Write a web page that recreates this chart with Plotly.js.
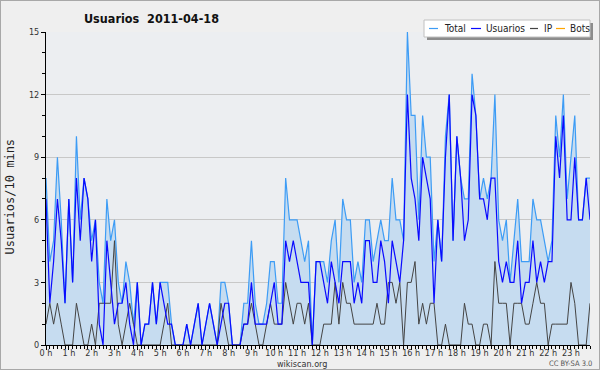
<!DOCTYPE html>
<html>
<head>
<meta charset="utf-8">
<script src="https://cdn.plot.ly/plotly-3.0.1.min.js"></script>
<style>
  html, body { margin: 0; padding: 0; background: #efefef; }
  #wrap { position: relative; width: 600px; height: 370px; }
  #chart { width: 600px; height: 370px; }
  #frame { position: absolute; left: 0; top: 0; width: 600px; height: 370px; box-sizing: border-box; border: 1px solid #a8a8a8; pointer-events: none; }
</style>
</head>
<body>
<div id="wrap"><div id="chart"></div><div id="frame"></div></div>
<script>
// ---- Data: one value per 10-minute slot, 2011-04-18 ----
const total = [
  8,4,5,9,6,2,7,3,10,6,
  8,7,5,6,3,2,7,5,6,3,
  2,4,3,1,3,0,1,1,3,1,
  3,3,3,1,0,0,0,1,0,1,
  2,0,1,2,1,0,3,3,2,0,
  0,0,2,2,5,2,1,1,2,4,
  4,2,2,8,6,6,6,5,4,5,
  0,4,4,4,3,5,6,3,7,6,
  6,3,4,3,6,6,4,5,6,5,
  5,8,6,6,5,15,11,11,6,11,
  9,9,4,6,4,10,12,5,10,8,
  7,7,13,11,7,8,7,8,12,6,
  5,6,3,5,7,4,4,4,7,6,
  6,5,4,5,11,9,12,7,9,11,
  6,6,8,8
];
const usuarios = [
  7,2,4,7,5,2,7,3,8,5,
  8,7,4,6,1,0,5,3,1,2,
  2,3,1,0,3,0,1,1,3,1,
  3,2,1,1,0,0,0,1,0,1,
  2,0,1,2,1,0,1,2,2,0,
  0,0,1,1,3,1,1,1,1,2,
  3,1,1,5,4,5,4,3,3,3,
  0,4,4,3,2,4,3,2,4,4,
  4,2,3,2,5,5,3,3,5,4,
  2,5,4,3,5,12,8,7,5,9,
  8,7,2,6,4,9,12,5,10,8,
  5,6,12,11,7,7,6,8,8,4,
  3,4,3,3,5,2,3,3,5,3,
  4,3,4,4,10,8,11,6,6,9,
  6,6,8,6
];
const ip = [
  1,2,1,2,1,0,0,0,2,1,
  0,0,1,0,2,2,2,2,5,1,
  0,1,2,1,0,0,0,0,0,0,
  0,1,2,0,0,0,0,0,0,0,
  0,0,0,0,0,0,2,1,0,0,
  0,0,1,1,2,1,0,0,1,2,
  1,1,1,3,2,1,2,2,1,2,
  0,0,0,1,1,1,3,1,3,2,
  2,1,1,1,1,1,1,2,1,1,
  3,3,2,3,0,3,3,4,1,2,
  1,2,2,0,0,1,0,0,0,0,
  2,1,1,0,0,1,1,0,4,2,
  2,2,0,2,2,2,1,1,2,3,
  2,2,0,1,1,1,1,1,3,2,
  0,0,0,2
];
const bots = [
  0,0,0,0,0,0,0,0,0,0,
  0,0,0,0,0,0,0,0,0,0,
  0,0,0,0,0,0,0,0,0,0,
  0,0,0,0,0,0,0,0,0,0,
  0,0,0,0,0,0,0,0,0,0,
  0,0,0,0,0,0,0,0,0,0,
  0,0,0,0,0,0,0,0,0,0,
  0,0,0,0,0,0,0,0,0,0,
  0,0,0,0,0,0,0,0,0,0,
  0,0,0,0,0,0,0,0,0,0,
  0,0,0,0,0,0,0,0,0,0,
  0,0,0,0,0,0,0,0,0,0,
  0,0,0,0,0,0,0,0,0,0,
  0,0,0,0,0,0,0,0,0,0,
  0,0,0,0
];
const hourLabels = ["0 h","1 h","2 h","3 h","4 h","5 h","6 h","7 h","8 h","9 h","10 h","11 h",
  "12 h","13 h","14 h","15 h","16 h","17 h","18 h","19 h","20 h","21 h","22 h","23 h"];
const seriesNames = ["Total", "Usuarios", "IP", "Bots"];
const seriesColors = ["#3d9cf5", "#0a0aff", "#444444", "#ffa500"];

// time of each slot in hours (10-minute slots)
const slots = total.map((_, i) => i / 6);
const hourVals = hourLabels.map((_, h) => h);

const FONT = '"DejaVu Sans Condensed", "DejaVu Sans", sans-serif';

const traces = [
  { x: slots, y: bots, name: seriesNames[3], type: 'scatter', mode: 'lines',
    line: { color: seriesColors[3], width: 1 }, hoverinfo: 'skip' },
  { x: slots, y: total, name: seriesNames[0], type: 'scatter', mode: 'lines',
    fill: 'tozeroy', fillcolor: '#c6dcf0',
    line: { color: seriesColors[0], width: 1.2 }, hoverinfo: 'skip' },
  { x: slots, y: ip, name: seriesNames[2], type: 'scatter', mode: 'lines',
    line: { color: seriesColors[2], width: 1 }, hoverinfo: 'skip' },
  { x: slots, y: usuarios, name: seriesNames[1], type: 'scatter', mode: 'lines',
    line: { color: seriesColors[1], width: 1.2 }, hoverinfo: 'skip' }
];

// pixel -> paper helpers for the hand-drawn legend (plot area 46..590 x, 32..345 y)
const PL = 46, PR = 590, PT = 32, PB = 345;
const px = v => (v - PL) / (PR - PL);
const py = v => (PB - v) / (PB - PT);

const shapes = [
  { type: 'rect', xref: 'paper', yref: 'paper', x0: px(427), x1: px(593), y0: py(40), y1: py(23),
    fillcolor: '#8c8c8c', line: { width: 0 } },
  { type: 'rect', xref: 'paper', yref: 'paper', x0: px(424), x1: px(590), y0: py(37), y1: py(20),
    fillcolor: '#ffffff', line: { color: '#c0c0c0', width: 1 } }
];
const legendLineX = [[429, 438], [471, 481], [530, 538], [556, 565]];
const legendTextX = [442, 484, 542, 568];
const legendOrder = [0, 1, 2, 3];
const annotations = [];
legendOrder.forEach((s, k) => {
  shapes.push({ type: 'line', xref: 'paper', yref: 'paper',
    x0: px(legendLineX[k][0]), x1: px(legendLineX[k][1]), y0: py(28.5), y1: py(28.5),
    line: { color: seriesColors[s], width: 1.2 } });
  annotations.push({ xref: 'paper', yref: 'paper', x: px(legendTextX[k]), y: py(28.5),
    xanchor: 'left', yanchor: 'middle', showarrow: false, text: seriesNames[s],
    font: { family: FONT, size: 10, color: '#222' } });
});
// y-axis title
annotations.push({ xref: 'paper', yref: 'paper', x: px(9.5), y: py(197), xanchor: 'center', yanchor: 'middle',
  textangle: -90, showarrow: false, text: 'Usuarios/10 mins',
  font: { family: '"DejaVu Sans Mono", monospace', size: 12, color: '#222' } });
annotations.push({ xref: 'paper', yref: 'paper', x: px(302), y: py(364), xanchor: 'center', yanchor: 'middle',
  showarrow: false, borderpad: 0, text: 'wikiscan.org', font: { family: FONT, size: 9, color: '#333' } });
annotations.push({ xref: 'paper', yref: 'paper', x: px(593), y: py(363.5), xanchor: 'right', yanchor: 'middle',
  showarrow: false, borderpad: 0, text: 'CC BY-SA 3.0', font: { family: FONT, size: 7.5, color: '#555' } });

const layout = {
  width: 600, height: 370,
  margin: { l: 46, r: 10, t: 32, b: 25, pad: 0 },
  paper_bgcolor: '#efefef',
  plot_bgcolor: '#eceef1',
  font: { family: FONT, size: 9, color: '#333' },
  showlegend: false,
  title: { text: 'Usuarios\u00a0 2011-04-18', font: { family: FONT, size: 12.5, weight: 'bold', color: '#111' },
    xref: 'container', x: 0.2525, xanchor: 'center', yref: 'container', y: 0.95, yanchor: 'middle' },
  xaxis: {
    range: [0, slots[slots.length - 1]],
    tickmode: 'array', tickvals: hourVals, ticktext: hourLabels,
    ticks: 'outside', ticklen: 4, tickcolor: '#000', tickwidth: 1,
    ticklabelstandoff: -5,
    showline: true, linecolor: '#000', linewidth: 1,
    showgrid: false, zeroline: false, fixedrange: true,
    tickfont: { family: FONT, size: 9, color: '#333' },
    minor: { tick0: 0, dtick: 1 / 6, ticks: 'outside', ticklen: 3, tickcolor: '#000', showgrid: false }
  },
  yaxis: {
    range: [0, 15], tick0: 0, dtick: 3,
    ticks: 'outside', ticklen: 4, tickcolor: '#000', tickwidth: 1,
    showline: true, linecolor: '#000', linewidth: 1,
    showgrid: true, gridcolor: '#c8c8c8', gridwidth: 1, zeroline: false, fixedrange: true,
    tickfont: { family: FONT, size: 9, color: '#333' },
    minor: { tick0: 0, dtick: 1, ticks: 'outside', ticklen: 3, tickcolor: '#000', showgrid: false }
  },
  shapes: shapes,
  annotations: annotations
};

Plotly.newPlot('chart', traces, layout, { staticPlot: true, displayModeBar: false });
</script>
</body>
</html>
